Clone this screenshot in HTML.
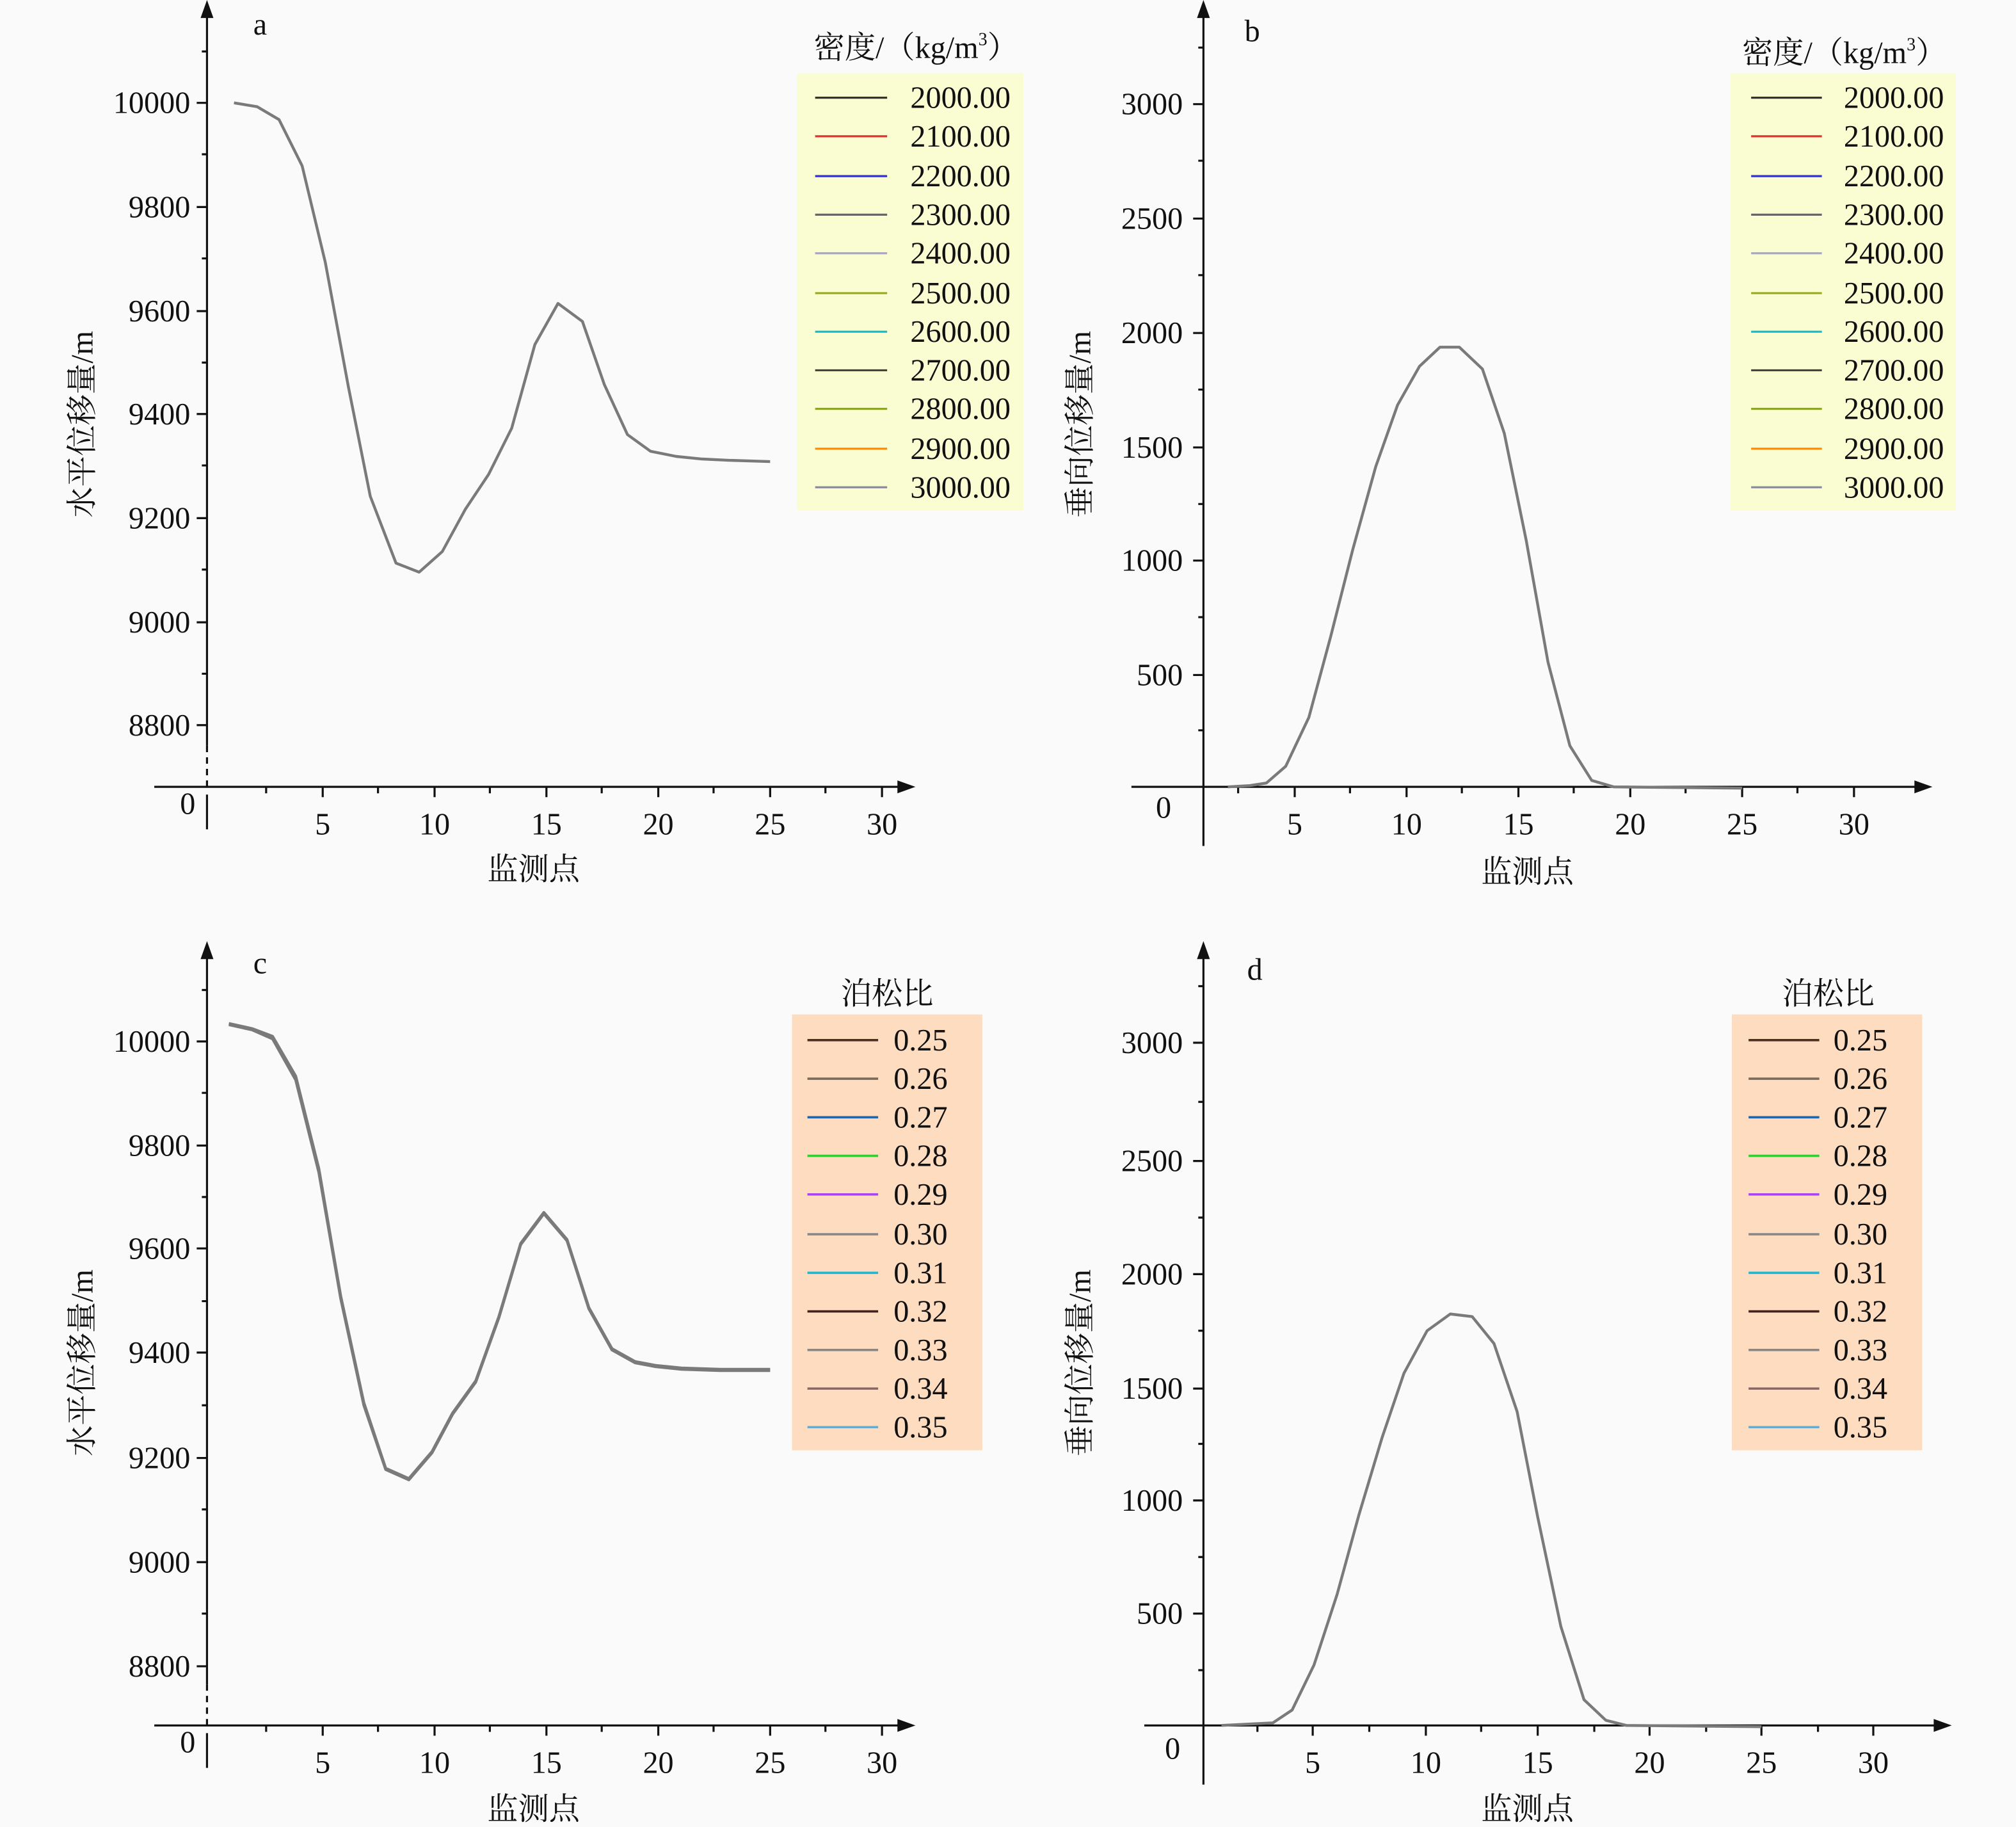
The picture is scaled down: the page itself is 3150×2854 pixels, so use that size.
<!DOCTYPE html>
<html><head><meta charset="utf-8"><style>
html,body{margin:0;padding:0;background:#fafafa}
svg{display:block}
text{font-family:"Liberation Serif","Noto Serif CJK SC",serif;fill:#111}
.t{font-size:24px}
.ax{stroke:#111;stroke-width:1.6;fill:none}
.cv{stroke:#7a7a7a;stroke-width:2.2;fill:none;stroke-linejoin:round}
</style></head><body>
<svg width="3150" height="2854" viewBox="0 0 1568 1421" preserveAspectRatio="none">
<rect width="1568" height="1421" fill="#fafafa"/>

<!-- ===== Panel a ===== -->
<g>
<path class="ax" d="M161,580 V6 M120,612 H706 M161,618 V645"/>
<path class="ax" d="M161,580 V612" stroke-dasharray="5,4"/>
<path d="M161,0 l-5,14 h10z M712,612 l-14,-5 v10z" fill="#111"/>
<path class="ax" d="M153,80H161M153,161H161M153,242H161M153,322H161M153,403H161M153,484H161M153,564H161
M157,40H161M157,120H161M157,201H161M157,282H161M157,362H161M157,443H161M157,524H161
M251,612V620M338,612V620M425,612V620M512,612V620M599,612V620M686,612V620
M207,612V617M294,612V617M381,612V617M468,612V617M555,612V617M642,612V617"/>
<g class="t" text-anchor="end">
<text x="148" y="88">10000</text><text x="148" y="169">9800</text><text x="148" y="250">9600</text>
<text x="148" y="330">9400</text><text x="148" y="411">9200</text><text x="148" y="492">9000</text><text x="148" y="572">8800</text>
</g>
<text class="t" x="146" y="633" text-anchor="middle">0</text>
<g class="t" text-anchor="middle">
<text x="251" y="649">5</text><text x="338" y="649">10</text><text x="425" y="649">15</text><text x="512" y="649">20</text><text x="599" y="649">25</text><text x="686" y="649">30</text>
</g>
<text class="t" x="415" y="684" text-anchor="middle" font-size="25">监测点</text>
<text class="t" transform="translate(72,330) rotate(-90)" text-anchor="middle" font-size="27">水平位移量/m</text>
<text class="t" x="197" y="27">a</text>
<polyline class="cv" points="182,80 200,83 217,93 235,129 253,204 271,301 288,386 308,438 326,445 344,429 362,396 380,369 398,333 416,268 434,236 453,250 470,299 488,338 506,351 526,355 546,357 567,358 599,359"/>
</g>

<!-- ===== Panel b ===== -->
<g>
<path class="ax" d="M936,658 V6 M880,612 H1497"/>
<path d="M936,0 l-5,14 h10z M1503,612 l-14,-5 v10z" fill="#111"/>
<path class="ax" d="M928,81H936M928,170H936M928,259H936M928,348H936M928,436H936M928,525H936
M932,125H936M932,214H936M932,303H936M932,392H936M932,480H936M932,568H936M932,37H936
M1007,612V620M1094,612V620M1181,612V620M1268,612V620M1355,612V620M1442,612V620
M963,612V617M1050,612V617M1137,612V617M1224,612V617M1311,612V617M1398,612V617"/>
<g class="t" text-anchor="end">
<text x="920" y="89">3000</text><text x="920" y="178">2500</text><text x="920" y="267">2000</text>
<text x="920" y="356">1500</text><text x="920" y="444">1000</text><text x="920" y="533">500</text>
</g>
<text class="t" x="905" y="636" text-anchor="middle">0</text>
<g class="t" text-anchor="middle">
<text x="1007" y="649">5</text><text x="1094" y="649">10</text><text x="1181" y="649">15</text><text x="1268" y="649">20</text><text x="1355" y="649">25</text><text x="1442" y="649">30</text>
</g>
<text class="t" x="1188" y="686" text-anchor="middle" font-size="25">监测点</text>
<text class="t" transform="translate(848,330) rotate(-90)" text-anchor="middle" font-size="27">垂向位移量/m</text>
<text class="t" x="968" y="32">b</text>
<polyline class="cv" points="955,612 972,611 985,609 1000,596 1018,558 1035,495 1052,428 1070,363 1087,315 1104,285 1120,270 1135,270 1153,287 1170,337 1187,420 1204,515 1221,580 1238,607 1255,612 1355,613"/>
</g>

<!-- ===== Panel c ===== -->
<g>
<path class="ax" d="M161,1310 V738 M120,1342 H706 M161,1348 V1375"/>
<path class="ax" d="M161,1310 V1342" stroke-dasharray="5,4"/>
<path d="M161,732 l-5,14 h10z M712,1342 l-14,-5 v10z" fill="#111"/>
<path class="ax" d="M153,810H161M153,891H161M153,971H161M153,1052H161M153,1134H161M153,1215H161M153,1296H161
M157,770H161M157,850H161M157,931H161M157,1012H161M157,1093H161M157,1174H161M157,1255H161
M251,1342V1350M338,1342V1350M425,1342V1350M512,1342V1350M599,1342V1350M686,1342V1350
M207,1342V1347M294,1342V1347M381,1342V1347M468,1342V1347M555,1342V1347M642,1342V1347"/>
<g class="t" text-anchor="end">
<text x="148" y="818">10000</text><text x="148" y="899">9800</text><text x="148" y="979">9600</text>
<text x="148" y="1060">9400</text><text x="148" y="1142">9200</text><text x="148" y="1223">9000</text><text x="148" y="1304">8800</text>
</g>
<text class="t" x="146" y="1363" text-anchor="middle">0</text>
<g class="t" text-anchor="middle">
<text x="251" y="1379">5</text><text x="338" y="1379">10</text><text x="425" y="1379">15</text><text x="512" y="1379">20</text><text x="599" y="1379">25</text><text x="686" y="1379">30</text>
</g>
<text class="t" x="415" y="1415" text-anchor="middle" font-size="25">监测点</text>
<text class="t" transform="translate(72,1060) rotate(-90)" text-anchor="middle" font-size="27">水平位移量/m</text>
<text class="t" x="197" y="757">c</text>
<polyline class="cv" stroke="#5aa88a" points="178,797 196,801 212,808 230,840 248,912 265,1010 283,1093 300,1143 318,1151 336,1130 352,1100 370,1075 388,1025 405,968 423,944 441,965 458,1018 476,1050 494,1060 510,1063 530,1065 560,1066 599,1066"/>
<polyline class="cv" points="178,796 196,800 212,806 230,837 248,909 265,1008 283,1091 300,1142 318,1150 336,1129 352,1099 370,1074 388,1024 405,967 423,943 441,964 458,1017 476,1049 494,1059 510,1062 530,1064 560,1065 599,1065"/>
</g>

<!-- ===== Panel d ===== -->
<g>
<path class="ax" d="M936,1388 V738 M890,1342 H1512"/>
<path d="M936,732 l-5,14 h10z M1518,1342 l-14,-5 v10z" fill="#111"/>
<path class="ax" d="M928,811H936M928,903H936M928,991H936M928,1080H936M928,1167H936M928,1255H936
M932,767H936M932,857H936M932,947H936M932,1035H936M932,1123H936M932,1211H936M932,1299H936
M1021,1342V1350M1109,1342V1350M1196,1342V1350M1283,1342V1350M1370,1342V1350M1457,1342V1350
M978,1342V1347M1065,1342V1347M1152,1342V1347M1240,1342V1347M1327,1342V1347M1414,1342V1347"/>
<g class="t" text-anchor="end">
<text x="920" y="819">3000</text><text x="920" y="911">2500</text><text x="920" y="999">2000</text>
<text x="920" y="1088">1500</text><text x="920" y="1175">1000</text><text x="920" y="1263">500</text>
</g>
<text class="t" x="912" y="1368" text-anchor="middle">0</text>
<g class="t" text-anchor="middle">
<text x="1021" y="1379">5</text><text x="1109" y="1379">10</text><text x="1196" y="1379">15</text><text x="1283" y="1379">20</text><text x="1370" y="1379">25</text><text x="1457" y="1379">30</text>
</g>
<text class="t" x="1188" y="1415" text-anchor="middle" font-size="25">监测点</text>
<text class="t" transform="translate(848,1060) rotate(-90)" text-anchor="middle" font-size="27">垂向位移量/m</text>
<text class="t" x="970" y="762">d</text>
<polyline class="cv" points="950,1342 990,1340 1005,1330 1022,1295 1040,1240 1057,1178 1075,1118 1092,1068 1110,1035 1128,1022 1145,1024 1162,1045 1180,1098 1196,1180 1214,1265 1232,1322 1249,1338 1265,1342 1370,1343"/>
</g>

<!-- ===== Legend a ===== -->
<text class="t" x="633" y="45" font-size="25">密度/（kg/m<tspan font-size="14" dy="-10">3</tspan><tspan dy="10">）</tspan></text>
<rect x="620" y="57" width="176" height="340" fill="#fafcd2"/>
<g stroke-width="1.6">
<line x1="634" x2="690" y1="76" y2="76" stroke="#333"/><line x1="634" x2="690" y1="106" y2="106" stroke="#d33"/>
<line x1="634" x2="690" y1="137" y2="137" stroke="#33c"/><line x1="634" x2="690" y1="167" y2="167" stroke="#666"/>
<line x1="634" x2="690" y1="197" y2="197" stroke="#aab"/><line x1="634" x2="690" y1="228" y2="228" stroke="#9a2"/>
<line x1="634" x2="690" y1="258" y2="258" stroke="#1bc"/><line x1="634" x2="690" y1="288" y2="288" stroke="#444"/>
<line x1="634" x2="690" y1="318" y2="318" stroke="#8a0"/><line x1="634" x2="690" y1="349" y2="349" stroke="#f80"/>
<line x1="634" x2="690" y1="379" y2="379" stroke="#889"/>
</g>
<g class="t" text-anchor="end" font-size="26">
<text x="786" y="84">2000.00</text><text x="786" y="114">2100.00</text><text x="786" y="145">2200.00</text><text x="786" y="175">2300.00</text>
<text x="786" y="205">2400.00</text><text x="786" y="236">2500.00</text><text x="786" y="266">2600.00</text><text x="786" y="296">2700.00</text>
<text x="786" y="326">2800.00</text><text x="786" y="357">2900.00</text><text x="786" y="387">3000.00</text>
</g>

<!-- ===== Legend b ===== -->
<text class="t" x="1355" y="49" font-size="25">密度/（kg/m<tspan font-size="14" dy="-10">3</tspan><tspan dy="10">）</tspan></text>
<rect x="1346" y="57" width="175" height="340" fill="#fafcd2"/>
<g stroke-width="1.6">
<line x1="1362" x2="1417" y1="76" y2="76" stroke="#333"/><line x1="1362" x2="1417" y1="106" y2="106" stroke="#d33"/>
<line x1="1362" x2="1417" y1="137" y2="137" stroke="#33c"/><line x1="1362" x2="1417" y1="167" y2="167" stroke="#666"/>
<line x1="1362" x2="1417" y1="197" y2="197" stroke="#aab"/><line x1="1362" x2="1417" y1="228" y2="228" stroke="#9a2"/>
<line x1="1362" x2="1417" y1="258" y2="258" stroke="#1bc"/><line x1="1362" x2="1417" y1="288" y2="288" stroke="#444"/>
<line x1="1362" x2="1417" y1="318" y2="318" stroke="#8a0"/><line x1="1362" x2="1417" y1="349" y2="349" stroke="#f80"/>
<line x1="1362" x2="1417" y1="379" y2="379" stroke="#889"/>
</g>
<g class="t" text-anchor="end" font-size="26">
<text x="1512" y="84">2000.00</text><text x="1512" y="114">2100.00</text><text x="1512" y="145">2200.00</text><text x="1512" y="175">2300.00</text>
<text x="1512" y="205">2400.00</text><text x="1512" y="236">2500.00</text><text x="1512" y="266">2600.00</text><text x="1512" y="296">2700.00</text>
<text x="1512" y="326">2800.00</text><text x="1512" y="357">2900.00</text><text x="1512" y="387">3000.00</text>
</g>

<!-- ===== Legend c ===== -->
<text class="t" x="690" y="781" text-anchor="middle" font-size="26">泊松比</text>
<rect x="616" y="789" width="148" height="339" fill="#fddcc0"/>
<g stroke-width="1.8">
<line x1="628" x2="683" y1="809" y2="809" stroke="#4a3020"/><line x1="628" x2="683" y1="839" y2="839" stroke="#7a6a5a"/>
<line x1="628" x2="683" y1="869" y2="869" stroke="#2266aa"/><line x1="628" x2="683" y1="899" y2="899" stroke="#3c3"/>
<line x1="628" x2="683" y1="929" y2="929" stroke="#a4e"/><line x1="628" x2="683" y1="960" y2="960" stroke="#888"/>
<line x1="628" x2="683" y1="990" y2="990" stroke="#1bd"/><line x1="628" x2="683" y1="1020" y2="1020" stroke="#422"/>
<line x1="628" x2="683" y1="1050" y2="1050" stroke="#888"/><line x1="628" x2="683" y1="1080" y2="1080" stroke="#866"/>
<line x1="628" x2="683" y1="1110" y2="1110" stroke="#6ac"/>
</g>
<g class="t" font-size="26">
<text x="695" y="817">0.25</text><text x="695" y="847">0.26</text><text x="695" y="877">0.27</text><text x="695" y="907">0.28</text>
<text x="695" y="937">0.29</text><text x="695" y="968">0.30</text><text x="695" y="998">0.31</text><text x="695" y="1028">0.32</text>
<text x="695" y="1058">0.33</text><text x="695" y="1088">0.34</text><text x="695" y="1118">0.35</text>
</g>

<!-- ===== Legend d ===== -->
<text class="t" x="1422" y="781" text-anchor="middle" font-size="26">泊松比</text>
<rect x="1347" y="789" width="148" height="339" fill="#fddcc0"/>
<g stroke-width="1.8">
<line x1="1360" x2="1415" y1="809" y2="809" stroke="#4a3020"/><line x1="1360" x2="1415" y1="839" y2="839" stroke="#7a6a5a"/>
<line x1="1360" x2="1415" y1="869" y2="869" stroke="#2266aa"/><line x1="1360" x2="1415" y1="899" y2="899" stroke="#3c3"/>
<line x1="1360" x2="1415" y1="929" y2="929" stroke="#a4e"/><line x1="1360" x2="1415" y1="960" y2="960" stroke="#888"/>
<line x1="1360" x2="1415" y1="990" y2="990" stroke="#1bd"/><line x1="1360" x2="1415" y1="1020" y2="1020" stroke="#422"/>
<line x1="1360" x2="1415" y1="1050" y2="1050" stroke="#888"/><line x1="1360" x2="1415" y1="1080" y2="1080" stroke="#866"/>
<line x1="1360" x2="1415" y1="1110" y2="1110" stroke="#6ac"/>
</g>
<g class="t" font-size="26">
<text x="1426" y="817">0.25</text><text x="1426" y="847">0.26</text><text x="1426" y="877">0.27</text><text x="1426" y="907">0.28</text>
<text x="1426" y="937">0.29</text><text x="1426" y="968">0.30</text><text x="1426" y="998">0.31</text><text x="1426" y="1028">0.32</text>
<text x="1426" y="1058">0.33</text><text x="1426" y="1088">0.34</text><text x="1426" y="1118">0.35</text>
</g>
</svg>
</body></html>
